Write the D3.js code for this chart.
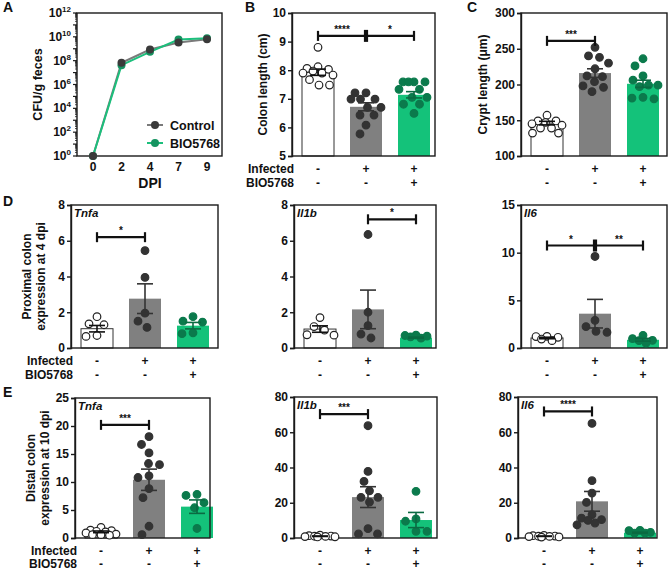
<!DOCTYPE html>
<html>
<head>
<meta charset="utf-8">
<script src="https://cdn.jsdelivr.net/npm/d3@7"></script>
<style>
body { margin: 0; background: #fff; }
svg text { font-family: "Liberation Sans", Arial, sans-serif; font-weight: bold; fill: #111; }
</style>
</head>
<body>
<svg id="fig" width="668" height="569"></svg>
<script>
// ---- data ----
var dpi = [0, 2, 4, 7, 9];
var cfuControl = [1, 6.6e7, 8.7e8, 3.3e9, 6.3e9];
var cfuBio = [1, 4.2e7, 5.5e8, 6.0e9, 7.6e9];

var groups = ['Uninfected', 'Infected', 'Infected + BIO5768'];
var infectedRow = ['-', '+', '+'];
var bioRow = ['-', '-', '+'];

// colon length (cm)
var colonMean = [7.93, 6.72, 7.14];
var colonSem = [0.11, 0.14, 0.11];
var colonUninf = [8.8, 8.12, 8.06, 8.03, 7.97, 7.9, 7.9, 7.83, 7.67, 7.48, 7.48];
var colonInf = [7.21, 7.21, 6.99, 6.99, 6.99, 6.7, 6.7, 6.43, 6.43, 6.08, 5.77];
var colonBio = [7.59, 7.59, 7.59, 7.59, 7.33, 7.33, 7.05, 7.05, 6.81, 6.81, 6.49];

// crypt length (um)
var cryptMean = [146, 216, 201];
var cryptSem = [2.5, 6, 5];
var cryptUninf = [157, 149, 149, 147, 145, 143, 139, 139, 132, 132];
var cryptInf = [252, 240, 238, 230, 222, 212, 211, 204, 198, 196, 190];
var cryptBio = [236, 226, 212, 206, 199, 199, 197, 182, 181, 180];

// proximal colon, 4 dpi
var proxTnfaMean = [1.08, 2.76, 1.25];
var proxTnfaSem = [0.18, 0.83, 0.18];
var proxTnfaUninf = [1.75, 1.35, 1.3, 0.7, 0.65];
var proxTnfaInf = [5.45, 3.95, 1.95, 1.5, 1.15];
var proxTnfaBio = [1.75, 1.5, 1.45, 0.85, 0.8];

var proxIl1bMean = [1.06, 2.16, 0.58];
var proxIl1bSem = [0.18, 1.08, 0.03];
var proxIl1bUninf = [1.7, 1.2, 1.0, 0.74, 0.72];
var proxIl1bInf = [6.35, 2.0, 1.25, 0.78, 0.56];
var proxIl1bBio = [0.72, 0.7, 0.66, 0.62, 0.55];

var proxIl6Mean = [1.05, 3.6, 0.86];
var proxIl6Sem = [0.08, 1.5, 0.15];
var proxIl6Uninf = [1.22, 1.2, 1.12, 0.94, 0.77];
var proxIl6Inf = [9.6, 2.9, 2.25, 1.75, 1.65];
var proxIl6Bio = [1.33, 0.98, 0.8, 0.77, 0.52];

// distal colon, 10 dpi
var distTnfaMean = [1.1, 10.4, 5.6];
var distTnfaSem = [0.15, 1.9, 1.2];
var distTnfaUninf = [1.9, 1.4, 1.3, 1.2, 1.1, 0.9, 0.7, 0.6, 0.6, 0.5];
var distTnfaInf = [18.1, 16.7, 15.2, 13.3, 13.1, 11.1, 10.8, 8.8, 7.2, 2.1, 0.6];
var distTnfaBio = [7.8, 7.6, 6.3, 5.4, 1.7];

var distIl1bMean = [1.0, 23.2, 10.2];
var distIl1bSem = [0.12, 5.9, 4.3];
var distIl1bUninf = [1.6, 1.3, 1.1, 1.0, 0.9, 0.8, 0.7, 0.6];
var distIl1bInf = [63.7, 37.8, 32.1, 26.8, 23.1, 23.1, 20.4, 5.3, 2.3, 2.3];
var distIl1bBio = [26.5, 10.8, 9.5, 3.8, 3.8];

var distIl6Mean = [1.0, 20.8, 3.0];
var distIl6Sem = [0.1, 5.6, 0.3];
var distIl6Uninf = [1.5, 1.3, 1.1, 1.0, 0.9, 0.8, 0.6, 0.5];
var distIl6Inf = [65, 32.5, 25.5, 20.2, 13.2, 11.3, 10.4, 10, 8.5, 7.5];
var distIl6Bio = [4.3, 4.2, 3.2, 2.8, 2.8];

// ---- styling ----
var barFill = ['#ffffff', '#808080', '#14c27a'];
var dotFill = ['#ffffff', '#333333', '#0b7a4c'];
var dotStroke = ['#222222', '#333333', '#0b7a4c'];
var errColor = ['#111111', '#333333', '#0b6a42'];

var svg = d3.select('#fig');

function letter(t, x, y) {
  svg.append('text').attr('x', x).attr('y', y).attr('font-size', 14).text(t);
}

// swarm layout: equal values spread sideways, kept inside the bar width
function swarm(vals, y, r, half) {
  var placed = [];
  var gap = 2 * r * 1.4;
  vals.slice().sort(function(a, b) { return b - a; }).forEach(function(v) {
    var py = y(v), best = null, bestD = -1;
    for (var k = 0; k < 80; k++) {
      var off = (k % 2 ? -1 : 1) * Math.ceil(k / 2) * 0.5;
      if (Math.abs(off) > half) break;
      var dmin = d3.min(placed, function(p) { return Math.hypot(p.dx - off, p.y - py); });
      if (dmin === undefined || dmin >= gap) { best = off; bestD = Infinity; break; }
      if (dmin > bestD) { bestD = dmin; best = off; }
    }
    placed.push({dx: best, y: py});
  });
  return placed;
}

function barPanel(o) {
  var g = svg.append('g');
  var y = d3.scaleLinear().domain(o.domain).range([o.y1, o.y0]);
  var x = d3.scaleBand().domain(groups)
    .range([o.x0 + 2, o.x0 + 146]).paddingInner(1 / 3).paddingOuter(1 / 6);

  g.selectAll('rect.bar').data(o.means).enter().append('rect')
    .attr('x', function(d, i) { return x(groups[i]); })
    .attr('y', function(d) { return y(d); })
    .attr('width', x.bandwidth())
    .attr('height', function(d) { return o.y1 - y(d); })
    .attr('fill', function(d, i) { return barFill[i]; })
    .attr('stroke', function(d, i) { return i === 0 ? '#333' : 'none'; })
    .attr('stroke-width', 1);

  // frame
  g.append('rect').attr('x', o.x0).attr('y', o.y0)
    .attr('width', o.x1 - o.x0).attr('height', o.y1 - o.y0)
    .attr('fill', 'none').attr('stroke', '#1a1a1a').attr('stroke-width', 1.4);

  var ax = g.append('g').attr('transform', 'translate(' + o.x0 + ',0)')
    .call(d3.axisLeft(y).tickValues(o.ticks).tickSize(4).tickPadding(2).tickFormat(d3.format('d')));
  ax.selectAll('text').attr('font-size', 12).attr('fill', '#111');
  ax.selectAll('line,path').attr('stroke', '#1a1a1a').attr('stroke-width', 1.4);

  // points
  var r = 3.8;
  o.points.forEach(function(vals, i) {
    var cx = x(groups[i]) + x.bandwidth() / 2;
    var pts = swarm(vals, y, r, x.bandwidth() / 2 - 1);
    g.selectAll(null).data(pts).enter().append('circle')
      .attr('cx', function(p) { return cx + p.dx; })
      .attr('cy', function(p) { return p.y; })
      .attr('r', r)
      .attr('fill', dotFill[i]).attr('stroke', dotStroke[i]).attr('stroke-width', 1.2);
  });

  // mean +/- sem
  o.means.forEach(function(m, i) {
    var cx = x(groups[i]) + x.bandwidth() / 2;
    var top = y(m + o.sems[i]), bot = y(m - o.sems[i]);
    var e = g.append('g').attr('stroke', errColor[i]).attr('stroke-width', 1.6);
    e.append('line').attr('x1', cx).attr('x2', cx).attr('y1', top).attr('y2', bot);
    e.append('line').attr('x1', cx - 8).attr('x2', cx + 8).attr('y1', top).attr('y2', top);
    e.append('line').attr('x1', cx - 8).attr('x2', cx + 8).attr('y1', bot).attr('y2', bot);
  });

  // significance brackets
  (o.sig || []).forEach(function(s) {
    var xa = x(groups[s[0]]) + x.bandwidth() / 2;
    var xb = x(groups[s[1]]) + x.bandwidth() / 2;
    var yy = y(s[2]);
    var shared = (o.sig.length > 1);
    var b = g.append('g').attr('stroke', '#111').attr('stroke-width', 2.2);
    b.append('line').attr('x1', xa).attr('x2', xb).attr('y1', yy).attr('y2', yy);
    var ca = shared && s[0] === 1 ? xa + 1 : xa;
    var cb = shared && s[1] === 1 ? xb - 1 : xb;
    var ha = shared && s[0] === 1 ? 6 : 5;
    var hb = shared && s[1] === 1 ? 6 : 5;
    b.append('line').attr('x1', ca).attr('x2', ca).attr('y1', yy - ha).attr('y2', yy + ha);
    b.append('line').attr('x1', cb).attr('x2', cb).attr('y1', yy - hb).attr('y2', yy + hb);
    g.append('text').attr('x', (xa + xb) / 2).attr('y', yy - 3)
      .attr('text-anchor', 'middle').attr('font-size', 10).attr('fill', '#111').text(s[3]);
  });

  if (o.gene) {
    g.append('text').attr('x', o.x0 + 3).attr('y', o.y0 + 12)
      .attr('font-size', 11.5).attr('font-style', 'italic').text(o.gene);
  }

  if (o.ylabel) {
    var lab = g.append('text').attr('text-anchor', 'middle').attr('font-size', 12)
      .attr('transform', 'translate(' + o.ylabelX + ',' + ((o.y0 + o.y1) / 2) + ') rotate(-90)');
    o.ylabel.forEach(function(t, k) {
      lab.append('tspan').attr('x', 0).attr('dy', k === 0 ? 0 : 14).text(t);
    });
  }

  // +/- rows
  var rowY = o.rowY || [17, 31];
  [infectedRow, bioRow].forEach(function(row, k) {
    g.selectAll(null).data(row).enter().append('text')
      .attr('x', function(d, i) { return x(groups[i]) + x.bandwidth() / 2; })
      .attr('y', o.y1 + rowY[k])
      .attr('text-anchor', 'middle').attr('font-size', 12).text(function(d) { return d; });
  });
  if (o.rowNames) {
    ['Infected', 'BIO5768'].forEach(function(t, k) {
      g.append('text').attr('x', o.x0 + 2).attr('y', o.y1 + rowY[k])
        .attr('text-anchor', 'end').attr('font-size', 12).text(t);
    });
  }
}

// ---- panel A ----
(function() {
  var x0 = 77, x1 = 222, y0 = 13, y1 = 156;
  var x = d3.scalePoint().domain(dpi).range([93, 207]);
  var y = d3.scaleLog().domain([1, 1e12]).range([y1, y0]);
  var g = svg.append('g');

  g.append('rect').attr('x', x0).attr('y', y0).attr('width', x1 - x0).attr('height', y1 - y0)
    .attr('fill', 'none').attr('stroke', '#1a1a1a').attr('stroke-width', 1.4);

  // log ticks: majors each decade, minors between
  var minors = [];
  for (var e = 0; e < 12; e++) for (var m = 2; m < 10; m++) minors.push(m * Math.pow(10, e));
  g.selectAll(null).data(minors).enter().append('line')
    .attr('x1', x0 - 2).attr('x2', x0).attr('y1', function(d) { return y(d); })
    .attr('y2', function(d) { return y(d); }).attr('stroke', '#1a1a1a').attr('stroke-width', 0.8);
  var majors = d3.range(0, 13).map(function(e) { return Math.pow(10, e); });
  g.selectAll(null).data(majors).enter().append('line')
    .attr('x1', x0 - 4).attr('x2', x0).attr('y1', function(d) { return y(d); })
    .attr('y2', function(d) { return y(d); }).attr('stroke', '#1a1a1a').attr('stroke-width', 1.2);
  var labs = g.selectAll(null).data(d3.range(0, 13, 2)).enter().append('text')
    .attr('x', x0 - 6).attr('y', function(d) { return y(Math.pow(10, d)) + 4; })
    .attr('text-anchor', 'end').attr('font-size', 12);
  labs.append('tspan').text('10');
  labs.append('tspan').attr('dy', -5).attr('font-size', 8).text(function(d) { return d; });

  g.selectAll(null).data(dpi).enter().append('text')
    .attr('x', function(d) { return x(d); }).attr('y', y1 + 15)
    .attr('text-anchor', 'middle').attr('font-size', 12).text(function(d) { return d; });
  g.append('text').attr('x', 150).attr('y', 188).attr('text-anchor', 'middle')
    .attr('font-size', 14).text('DPI');
  g.append('text').attr('transform', 'translate(42,' + ((y0 + y1) / 2) + ') rotate(-90)')
    .attr('text-anchor', 'middle').attr('font-size', 12.5).text('CFU/g feces');

  var series = [
    {vals: cfuControl, line: '#7a7a7a', dot: '#3a3a3a'},
    {vals: cfuBio, line: '#1cbf7c', dot: '#159461'}
  ];
  var line = d3.line().x(function(d, i) { return x(dpi[i]); }).y(function(d) { return y(d); });
  series.forEach(function(s) {
    g.append('path').datum(s.vals).attr('d', line).attr('fill', 'none')
      .attr('stroke', s.line).attr('stroke-width', 2);
  });
  series.slice().reverse().forEach(function(s) {
    g.selectAll(null).data(s.vals).enter().append('circle')
      .attr('cx', function(d, i) { return x(dpi[i]); }).attr('cy', function(d) { return y(d); })
      .attr('r', 4).attr('fill', s.dot);
  });

  // legend
  ['Control', 'BIO5768'].forEach(function(t, k) {
    var ly = 125 + k * 18;
    g.append('line').attr('x1', 147).attr('x2', 163).attr('y1', ly).attr('y2', ly)
      .attr('stroke', series[k].line).attr('stroke-width', 2);
    g.append('circle').attr('cx', 155).attr('cy', ly).attr('r', 4).attr('fill', series[k].dot);
    g.append('text').attr('x', 170).attr('y', ly + 4.5).attr('font-size', 12.5).text(t);
  });
})();

// ---- bar panels ----
barPanel({x0: 292, x1: 435, y0: 13, y1: 156, domain: [5, 10], ticks: [5, 6, 7, 8, 9, 10],
  means: colonMean, sems: colonSem, points: [colonUninf, colonInf, colonBio],
  sig: [[0, 1, 9.2, '****'], [1, 2, 9.2, '*']],
  ylabel: ['Colon length (cm)'], ylabelX: 267, rowNames: true});

barPanel({x0: 521, x1: 667, y0: 13, y1: 156, domain: [100, 300], ticks: [100, 150, 200, 250, 300],
  means: cryptMean, sems: cryptSem, points: [cryptUninf, cryptInf, cryptBio],
  sig: [[0, 1, 261, '***']],
  ylabel: ['Crypt length (\u03bcm)'], ylabelX: 487});

barPanel({x0: 71, x1: 218, y0: 205, y1: 348, domain: [0, 8], ticks: [0, 2, 4, 6, 8],
  means: proxTnfaMean, sems: proxTnfaSem, points: [proxTnfaUninf, proxTnfaInf, proxTnfaBio],
  sig: [[0, 1, 6.2, '*']], gene: 'Tnfa', rowY: [17, 30.5],
  ylabel: ['Proximal colon', 'expression at 4 dpi'], ylabelX: 31, rowNames: true});

barPanel({x0: 294, x1: 436, y0: 205, y1: 348, domain: [0, 8], ticks: [0, 2, 4, 6, 8],
  means: proxIl1bMean, sems: proxIl1bSem, points: [proxIl1bUninf, proxIl1bInf, proxIl1bBio],
  sig: [[1, 2, 7.2, '*']], gene: 'Il1b', rowY: [17, 30.5]});

barPanel({x0: 521, x1: 667, y0: 205, y1: 348, domain: [0, 15], ticks: [0, 5, 10, 15],
  means: proxIl6Mean, sems: proxIl6Sem, points: [proxIl6Uninf, proxIl6Inf, proxIl6Bio],
  sig: [[0, 1, 10.75, '*'], [1, 2, 10.75, '**']], gene: 'Il6', rowY: [17, 30.5]});

barPanel({x0: 75, x1: 210, y0: 398, y1: 538, domain: [0, 25], ticks: [0, 5, 10, 15, 20, 25],
  means: distTnfaMean, sems: distTnfaSem, points: [distTnfaUninf, distTnfaInf, distTnfaBio],
  sig: [[0, 1, 20.2, '***']], gene: 'Tnfa', rowY: [17, 29.5],
  ylabel: ['Distal colon', 'expression at 10 dpi'], ylabelX: 35, rowNames: true});

barPanel({x0: 294, x1: 437, y0: 397, y1: 538, domain: [0, 80], ticks: [0, 20, 40, 60, 80],
  means: distIl1bMean, sems: distIl1bSem, points: [distIl1bUninf, distIl1bInf, distIl1bBio],
  sig: [[0, 1, 70.3, '***']], gene: 'Il1b', rowY: [17, 29.5]});

barPanel({x0: 518, x1: 657, y0: 397, y1: 538, domain: [0, 80], ticks: [0, 20, 40, 60, 80],
  means: distIl6Mean, sems: distIl6Sem, points: [distIl6Uninf, distIl6Inf, distIl6Bio],
  sig: [[0, 1, 71.8, '****']], gene: 'Il6', rowY: [17, 29.5]});

letter('A', 3, 12);
letter('B', 245, 12);
letter('C', 467, 12);
letter('D', 3, 206);
letter('E', 3, 397);
</script>
</body>
</html>
